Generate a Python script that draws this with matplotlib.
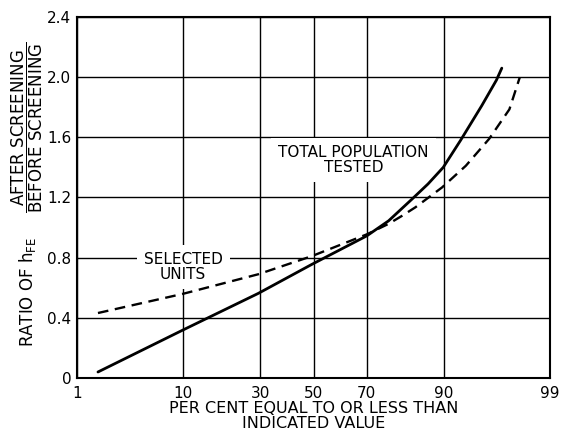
import math
import matplotlib
matplotlib.use("Agg")
import matplotlib.pyplot as plt

# ---- data (percent, ratio) ----
solid_pct = [1.7, 10.0, 29.4, 49.3, 70.0, 77.0, 83.4, 87.0, 89.9, 92.6, 95.1, 96.4, 96.8]
solid_val = [0.04, 0.32, 0.563, 0.755, 0.945, 1.045, 1.19, 1.29, 1.40, 1.58, 1.81, 1.98, 2.06]
dash_pct = [1.7, 10.0, 29.4, 49.3, 70.0, 77.0, 80.8, 84.2, 89.7, 93.3, 95.8, 97.3, 97.88]
dash_val = [0.432, 0.56, 0.69, 0.81, 0.955, 1.025, 1.078, 1.135, 1.267, 1.411, 1.59, 1.786, 2.0]
x_ticks = [1, 10, 30, 50, 70, 90, 99]
y_ticks = [0, 0.4, 0.8, 1.2, 1.6, 2.0, 2.4]
y_tick_labels = ["0", "0.4", "0.8", "1.2", "1.6", "2.0", "2.4"]


def probit(p):
    # inverse standard normal CDF by bisection on math.erf
    lo, hi = -10.0, 10.0
    for _ in range(80):
        mid = 0.5 * (lo + hi)
        if 0.5 * (1 + math.erf(mid / math.sqrt(2))) < p:
            lo = mid
        else:
            hi = mid
    return 0.5 * (lo + hi)


def px(pcts):
    return [probit(v / 100.0) for v in pcts]


plt.rcParams['font.family'] = ['DejaVu Sans']
plt.rcParams['mathtext.fontset'] = 'dejavusans'

fig = plt.figure(figsize=(5.61, 4.34), dpi=100)
ax = fig.add_axes([77 / 561, 1 - 378 / 434, (550 - 77) / 561, (378 - 17) / 434])

ax.set_xlim(probit(0.01), probit(0.99))
ax.set_ylim(0, 2.4)
ax.set_xticks(px(x_ticks))
ax.set_xticklabels([str(t) for t in x_ticks], fontsize=11)
ax.set_yticks(y_ticks)
ax.set_yticklabels(y_tick_labels, fontsize=11)
ax.tick_params(axis='x', length=0, pad=6)
ax.tick_params(axis='y', length=0, pad=4)
ax.grid(True, color='black', linewidth=1.0)
for s in ax.spines.values():
    s.set_linewidth(1.5)
    s.set_color('black')

ax.plot(px(solid_pct), solid_val, color='black', linewidth=2.0, solid_capstyle='round', zorder=3)
ax.plot(px(dash_pct), dash_val, color='black', linewidth=1.7, dashes=(4.5, 2.8), zorder=3)

bb = dict(facecolor='white', edgecolor='none', pad=5)
ax.text(probit(0.653), 1.45, "TOTAL POPULATION\nTESTED", ha='center', va='center',
        fontsize=11, linespacing=1.0, bbox=bb, zorder=2)
ax.text(probit(0.10), 0.74, "SELECTED\nUNITS", ha='center', va='center',
        fontsize=11, linespacing=1.0, bbox=bb, zorder=2)

fig.text(314 / 561, 1 - 416 / 434, "PER CENT EQUAL TO OR LESS THAN\nINDICATED VALUE",
         ha='center', va='center', fontsize=11.5, linespacing=0.95)

fig.text(27 / 561, 1 - 292 / 434, r"RATIO OF h$_{\mathregular{FE}}$", rotation=90,
         ha='center', va='center', fontsize=12)
fig.text(27 / 561, 1 - 127 / 434,
         r"$\dfrac{\mathregular{AFTER\ SCREENING}}{\mathregular{BEFORE\ SCREENING}}$",
         rotation=90, ha='center', va='center', fontsize=12)

fig.savefig("out.png", dpi=100)
